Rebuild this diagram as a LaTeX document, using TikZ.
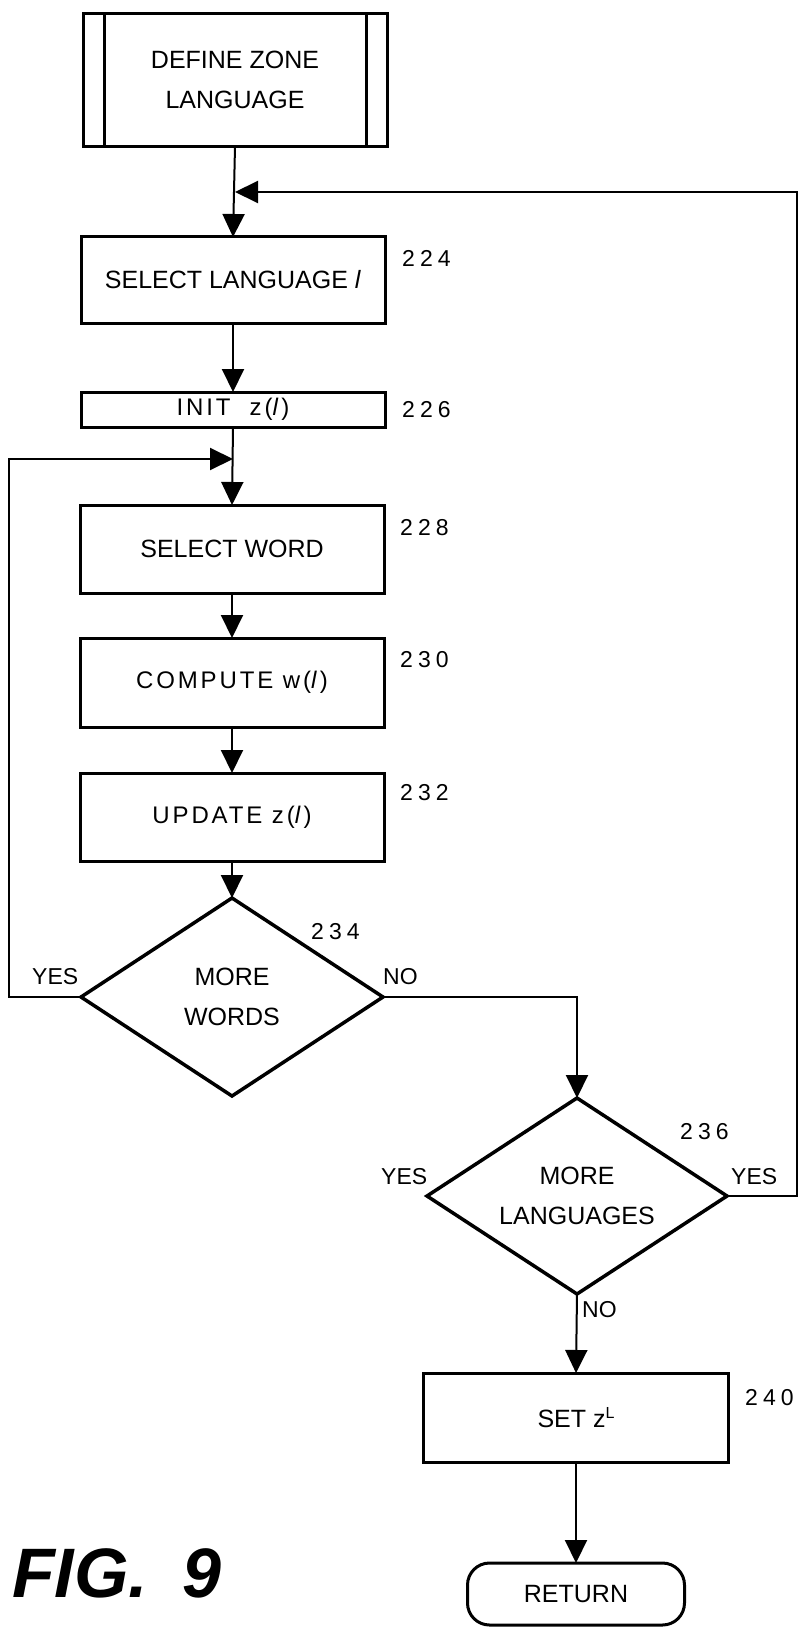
\documentclass[tikz,border=0pt]{standalone}
\usepackage{fontspec}
\setmainfont{Liberation Sans}
\newfontfamily\spacedfont[LetterSpace=12]{Liberation Sans}
\newfontfamily\numfont[LetterSpace=22]{Liberation Sans}
\usetikzlibrary{arrows.meta,shapes.geometric}

\tikzset{
  box/.style={draw, line width=3pt, inner sep=0pt, outer sep=0pt,
    minimum width=304pt, align=center},
  dia/.style={draw, diamond, line width=3.5pt, inner sep=0pt, outer sep=0pt,
    aspect=1.53, align=center, font=\fontsize{25}{40}\selectfont},
  conn/.style={line width=2pt, -{Triangle[length=23pt,width=22pt]}},
  refnum/.style={anchor=west, inner sep=0pt, font=\numfont\fontsize{23}{26}\selectfont},
  answer/.style={inner sep=0pt, font=\fontsize{23}{25}\selectfont},
}

\begin{document}
\begin{tikzpicture}[x=1pt,y=-1pt]
\useasboundingbox (0,0) rectangle (805,1629);

% process boxes of the left column
\node[box, minimum height=133pt, font=\fontsize{25}{40}\selectfont] (define) at (235,80)
  {DEFINE ZONE\\LANGUAGE};
\draw[line width=3pt] ([xshift=21pt]define.north west) -- ([xshift=21pt]define.south west);
\draw[line width=3pt] ([xshift=-21pt]define.north east) -- ([xshift=-21pt]define.south east);

\node[box, minimum height=86pt, font=\fontsize{25}{30}\selectfont] (sellang) at (233,280)
  {SELECT LANGUAGE \textit{l}};
\node[box, minimum height=35pt, font=\spacedfont\fontsize{24}{28}\selectfont] (init) at (233,409.5)
  {INIT\ \ z(\textit{l})};
\node[box, minimum height=88pt, font=\fontsize{25}{30}\selectfont] (selword) at (232,549)
  {SELECT WORD};
\node[box, minimum height=89pt, font=\spacedfont\fontsize{24}{28}\selectfont] (compute) at (232,682.5)
  {COMPUTE w(\textit{l})};
\node[box, minimum height=88pt, font=\spacedfont\fontsize{24}{28}\selectfont] (update) at (232,817)
  {UPDATE\ z(\textit{l})};

% decisions
\node[dia, minimum width=302pt, minimum height=198pt] (words) at (232,997) {MORE\\WORDS};
\node[dia, minimum width=300pt, minimum height=196pt] (langs) at (577,1196) {MORE\\LANGUAGES};

% right column
\node[box, minimum width=305pt, minimum height=89pt, font=\fontsize{25}{30}\selectfont] (setz) at (576,1417.5)
  {SET z\raisebox{9pt}{\fontsize{16}{17}\selectfont L}};
\node[draw, line width=3pt, rounded corners=22pt, inner sep=0pt, outer sep=0pt,
  minimum width=217pt, minimum height=62pt, font=\fontsize{25}{30}\selectfont] (ret) at (576,1594)
  {RETURN};

% reference numerals
\node[refnum] (r224) at (402,258) {224};
\node[refnum] (r226) at (402,410) {226};
\node[refnum] (r228) at (400,528) {228};
\node[refnum] (r230) at (400,660) {230};
\node[refnum] (r232) at (400,793) {232};
\node[refnum] (r234) at (311,932) {234};
\node[refnum] (r236) at (680,1132) {236};
\node[refnum] (r240) at (745,1398) {240};

% branch labels
\node[answer, anchor=west] (yesW) at (32,977) {YES};
\node[answer, anchor=west] (noW) at (383,977) {NO};
\node[answer, anchor=west] (yesLl) at (381,1177) {YES};
\node[answer, anchor=west] (yesLr) at (731,1177) {YES};
\node[answer, anchor=west] (noL) at (582,1310) {NO};

% junction points where the loops rejoin the main flow
\coordinate (loopB) at (235,192);
\coordinate (loopA) at (233,459);

% main flow
\draw[conn] (define.south) -- (sellang.north);
\draw[conn] (sellang.south) -- (init.north);
\draw[conn] (init.south) -- (selword.north);
\draw[conn] (selword.south) -- (compute.north);
\draw[conn] (compute.south) -- (update.north);
\draw[conn] (update.south) -- (words.north);
\draw[conn] (words.east) -| (langs.north);
\draw[conn] (langs.south) -- (setz.north);
\draw[conn] (setz.south) -- (ret.north);

% loops back
\draw[conn] (words.west) -- ++(-72,0) |- (loopA);
\draw[conn] (langs.east) -- ++(70,0) |- (loopB);

% figure caption
\node[anchor=base west, inner sep=0pt, font=\bfseries\itshape\fontsize{70}{70}\selectfont] (fig) at (12,1597)
  {FIG.\hspace{34pt}9};
\end{tikzpicture}
\end{document}
